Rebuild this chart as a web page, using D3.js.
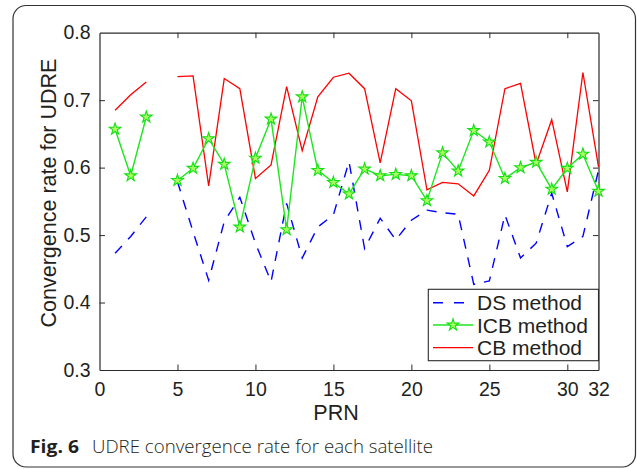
<!DOCTYPE html>
<html>
<head>
<meta charset="utf-8">
<script src="https://cdn.jsdelivr.net/npm/d3@7"></script>
<style>
  html, body { margin: 0; padding: 0; background: #fff; }
  svg { display: block; }
</style>
</head>
<body>
<svg id="chart" width="637" height="469"></svg>
<script>
// ---- data ----
const prn = d3.range(1, 33);
const dsValues  = [0.473,0.498,0.527,null,0.579,0.505,0.433,0.520,0.556,0.488,0.431,0.547,0.466,0.512,0.530,0.609,0.480,0.525,0.493,0.522,0.537,0.533,0.531,0.427,0.432,0.530,0.466,0.488,0.562,0.483,0.498,0.596];
const icbValues = [0.657,0.588,0.675,null,0.581,0.599,0.643,0.605,0.512,0.614,0.672,0.508,0.705,0.596,0.578,0.561,0.598,0.588,0.590,0.588,0.551,0.622,0.595,0.655,0.638,0.584,0.600,0.608,0.568,0.599,0.620,0.565];
const cbValues  = [0.685,0.708,0.727,null,0.735,0.736,0.573,0.732,0.717,0.584,0.604,0.720,0.625,0.705,0.734,0.740,0.717,0.607,0.717,0.699,0.567,0.578,0.576,0.558,0.596,0.717,0.725,0.605,0.671,0.564,0.741,0.601];
const xTicks = [0, 5, 10, 15, 20, 25, 30, 32];
const yTicks = [0.3, 0.4, 0.5, 0.6, 0.7, 0.8];
const seriesNames = ["DS method", "ICB method", "CB method"];
const captionBold = "Fig. 6";
const captionText = "UDRE convergence rate for each satellite";
const xLabel = "PRN";
const yLabel = "Convergence rate for UDRE";

// ---- layout ----
const svg = d3.select("#chart");
const L = 99.5, R = 598.5, T = 32.7, B = 370;
const x = d3.scaleLinear().domain([0, 32]).range([L, R]);
const y = d3.scaleLinear().domain([0.3, 0.8]).range([B, T]);
const axisColor = "#2b2b2b";
const textColor = "#231f20";
const tickFont = "Liberation Sans, Arial, sans-serif";

// outer frame
svg.append("rect").attr("x", 13).attr("y", 5.5).attr("width", 622.5).attr("height", 461.5)
  .attr("rx", 13).attr("ry", 13).attr("fill", "none").attr("stroke", "#333").attr("stroke-width", 1.2);

// plot area
svg.append("rect").attr("x", L).attr("y", T).attr("width", R - L).attr("height", B - T)
  .attr("fill", "#fff");

const tickLen = 5.5;
// axes with inward ticks
const gx = svg.append("g").attr("transform", `translate(0,${B})`)
  .call(d3.axisBottom(x).tickValues(xTicks).tickSizeInner(-tickLen).tickSizeOuter(0).tickPadding(12).tickFormat(d3.format("d")));
const gxt = svg.append("g").attr("transform", `translate(0,${T})`)
  .call(d3.axisTop(x).tickValues(xTicks).tickSizeInner(-tickLen).tickSizeOuter(0).tickFormat(""));
const gy = svg.append("g").attr("transform", `translate(${L},0)`)
  .call(d3.axisLeft(y).tickValues(yTicks).tickSizeInner(-tickLen).tickSizeOuter(0).tickPadding(9).tickFormat(d3.format(".1f")));
const gyr = svg.append("g").attr("transform", `translate(${R},0)`)
  .call(d3.axisRight(y).tickValues(yTicks).tickSizeInner(-tickLen).tickSizeOuter(0).tickFormat(""));
[gx, gxt, gy, gyr].forEach(g => {
  g.selectAll("path.domain").attr("stroke", axisColor).attr("stroke-width", 1.2);
  g.selectAll(".tick line").attr("stroke", axisColor).attr("stroke-width", 1);
  g.selectAll("text").attr("fill", textColor).attr("font-family", tickFont).attr("font-size", 19.5);
});
gx.selectAll(".tick").filter(d => d === 0 || d === 32).select("line").remove();
gy.selectAll(".tick").filter(d => d === 0.3 || d === 0.8).select("line").remove();
gyr.selectAll(".tick").filter(d => d === 0.3 || d === 0.8).select("line").remove();
gxt.selectAll(".tick").filter(d => d === 0 || d === 32).select("line").remove();

// axis labels
svg.append("text").attr("x", 336).attr("y", 420).attr("text-anchor", "middle")
  .attr("font-family", tickFont).attr("font-size", 21.5).attr("fill", textColor).text(xLabel);
svg.append("text").attr("transform", `translate(56,193) rotate(-90)`).attr("text-anchor", "middle")
  .attr("font-family", tickFont).attr("font-size", 21.5).attr("fill", textColor).text(yLabel);

// series
const line = vals => d3.line().defined((d, i) => vals[i] !== null)
  .x((d, i) => x(prn[i])).y((d, i) => y(vals[i]))(vals);

svg.append("path").attr("d", line(dsValues)).attr("fill", "none").attr("stroke", "#0000ff")
  .attr("stroke-width", 1.4).attr("stroke-dasharray", "10,9");
svg.append("path").attr("d", line(cbValues)).attr("fill", "none").attr("stroke", "#ff0000")
  .attr("stroke-width", 1.3);
svg.append("path").attr("d", line(icbValues)).attr("fill", "none").attr("stroke", "#1ee61e")
  .attr("stroke-width", 1.4);

const star = d3.symbol().type(d3.symbolStar).size(42);
svg.append("g").selectAll("path").data(prn.filter((p, i) => icbValues[i] !== null))
  .join("path")
  .attr("d", star)
  .attr("transform", p => `translate(${x(p)},${y(icbValues[p - 1])})`)
  .attr("fill", "#a8ff60").attr("stroke", "#14e014").attr("stroke-width", 1.1);

// legend
const lg = svg.append("g");
lg.append("rect").attr("x", 428.3).attr("y", 289.3).attr("width", R - 428.3).attr("height", 71.4)
  .attr("fill", "#fff").attr("stroke", axisColor).attr("stroke-width", 1.1);
const legendY = [302.7, 325, 347.7];
lg.append("line").attr("x1", 433).attr("x2", 473).attr("y1", legendY[0]).attr("y2", legendY[0])
  .attr("stroke", "#0000ff").attr("stroke-width", 1.4).attr("stroke-dasharray", "10,11");
lg.append("line").attr("x1", 433).attr("x2", 473).attr("y1", legendY[1]).attr("y2", legendY[1])
  .attr("stroke", "#1ee61e").attr("stroke-width", 1.4);
lg.append("path").attr("d", star).attr("transform", `translate(453,${legendY[1]})`)
  .attr("fill", "#a8ff60").attr("stroke", "#14e014").attr("stroke-width", 1.1);
lg.append("line").attr("x1", 433).attr("x2", 473).attr("y1", legendY[2]).attr("y2", legendY[2])
  .attr("stroke", "#ff0000").attr("stroke-width", 1.3);
seriesNames.forEach((n, i) => {
  lg.append("text").attr("x", 477).attr("y", legendY[i] + 7.5)
    .attr("font-family", tickFont).attr("font-size", 21).attr("fill", textColor).text(n);
});

// caption
const capFont = "Open Sans, sans-serif";
const capB = svg.append("text").attr("x", 30).attr("y", 453)
  .attr("font-family", capFont).attr("font-size", 18.5).attr("font-weight", "bold")
  .attr("fill", textColor).text(captionBold);
const capT = svg.append("text").attr("x", 92).attr("y", 453)
  .attr("font-family", capFont).attr("font-size", 18.5).attr("font-weight", 300)
  .attr("fill", textColor).text(captionText);
// fit to the reference extents
const wB = capB.node().getComputedTextLength();
if (wB > 0) capB.attr("textLength", 49).attr("lengthAdjust", "spacingAndGlyphs");
const wT = capT.node().getComputedTextLength();
if (wT > 0) capT.attr("textLength", 341).attr("lengthAdjust", "spacingAndGlyphs");
</script>
</body>
</html>
